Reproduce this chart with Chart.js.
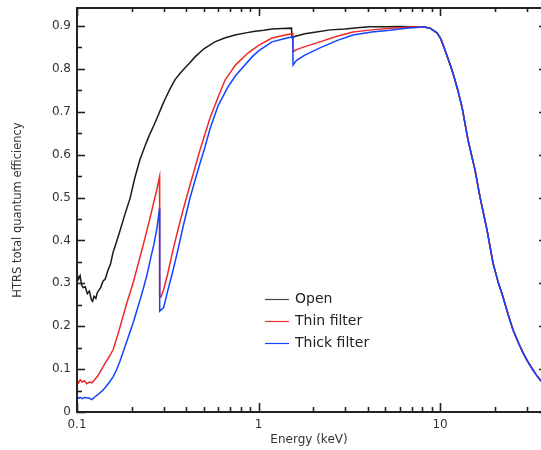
<!DOCTYPE html>
<html>
<head>
<meta charset="utf-8">
<script src="https://cdn.jsdelivr.net/npm/chart.js@4"></script>
<style>
  html, body { margin: 0; padding: 0; background: #fff; }
  #wrap { width: 541px; height: 450px; }
</style>
</head>
<body>
<div id="wrap"><canvas id="qeChart" width="541" height="450"></canvas></div>
<script>
// energies in keV, efficiencies
const openE = [0.100, 0.102, 0.104, 0.106, 0.108, 0.111, 0.114, 0.117, 0.120, 0.122, 0.124, 0.127, 0.129, 0.132,
  0.135, 0.139, 0.143, 0.148, 0.153, 0.158, 0.166, 0.174, 0.184, 0.196, 0.208, 0.222, 0.237, 0.250, 0.265,
  0.279, 0.295, 0.31, 0.33, 0.347, 0.37, 0.393, 0.42, 0.447, 0.50, 0.575, 0.65, 0.742, 0.85, 0.957, 1.07,
  1.187, 1.35, 1.52];
const openQE = [0.322, 0.31, 0.318, 0.296, 0.29, 0.292, 0.276, 0.282, 0.262, 0.258, 0.27, 0.265, 0.277, 0.284,
  0.29, 0.305, 0.31, 0.33, 0.345, 0.372, 0.40, 0.428, 0.462, 0.498, 0.545, 0.588, 0.62, 0.645, 0.668,
  0.69, 0.715, 0.735, 0.758, 0.775, 0.79, 0.802, 0.815, 0.828, 0.847, 0.863, 0.872, 0.879, 0.884, 0.888, 0.89,
  0.893, 0.894, 0.895];
const openEdgeE = [1.53, 1.6, 1.8, 2.0, 2.48, 3.0, 3.5, 4.11, 5.0, 6.0, 7.0, 7.76];
const openEdgeQE = [0.873, 0.876, 0.882, 0.885, 0.891, 0.893, 0.896, 0.898, 0.898, 0.899, 0.898, 0.898];

const thinE = [0.100, 0.102, 0.104, 0.107, 0.110, 0.113, 0.117, 0.121, 0.125, 0.130, 0.134, 0.139, 0.145, 0.151,
  0.158, 0.165, 0.172, 0.179, 0.19, 0.2035, 0.215, 0.228, 0.243, 0.255, 0.265, 0.276, 0.285, 0.2855, 0.29,
  0.30, 0.315, 0.338, 0.36, 0.384, 0.42, 0.476, 0.54, 0.60, 0.654, 0.75, 0.875, 1.0, 1.187, 1.4, 1.545, 1.55,
  1.62, 1.8, 2.18, 2.7, 3.32, 4.2, 5.3, 6.5, 7.76];
const thinQE = [0.072, 0.068, 0.075, 0.07, 0.073, 0.066, 0.07, 0.068, 0.075, 0.084, 0.093, 0.105, 0.118, 0.13,
  0.145, 0.17, 0.196, 0.222, 0.26, 0.30, 0.338, 0.378, 0.424, 0.46, 0.49, 0.52, 0.548, 0.27, 0.268,
  0.285, 0.32, 0.378, 0.425, 0.471, 0.53, 0.611, 0.685, 0.735, 0.774, 0.81, 0.837, 0.855, 0.872, 0.879, 0.882, 0.84,
  0.845, 0.852, 0.863, 0.876, 0.886, 0.891, 0.895, 0.897, 0.898];

const thickE = [0.100, 0.102, 0.104, 0.107, 0.110, 0.113, 0.117, 0.121, 0.125, 0.130, 0.134, 0.139, 0.145, 0.151,
  0.158, 0.165, 0.172, 0.179, 0.19, 0.2035, 0.215, 0.231, 0.243, 0.255, 0.265, 0.276, 0.285, 0.2855, 0.29,
  0.30, 0.315, 0.338, 0.356, 0.384, 0.42, 0.476, 0.507, 0.54, 0.60, 0.679, 0.75, 0.922, 1.0, 1.187, 1.4, 1.545,
  1.55, 1.62, 1.8, 2.18, 2.7, 3.32, 4.2, 5.3, 6.5, 7.76];
const thickQE = [0.035, 0.032, 0.034, 0.031, 0.034, 0.033, 0.032, 0.029, 0.035, 0.04, 0.045, 0.051, 0.06, 0.07,
  0.082, 0.098, 0.117, 0.138, 0.17, 0.207, 0.24, 0.285, 0.32, 0.36, 0.39, 0.43, 0.475, 0.235, 0.238,
  0.243, 0.28, 0.33, 0.37, 0.432, 0.50, 0.58, 0.618, 0.66, 0.715, 0.758, 0.785, 0.828, 0.842, 0.863, 0.871, 0.875,
  0.809, 0.82, 0.832, 0.849, 0.866, 0.879, 0.886, 0.89, 0.895, 0.897];

// high-energy roll-off, the same for all three
const tailE = [8.06, 8.8, 9.62, 10.1, 10.65, 11.2, 11.79, 12.5, 13.22, 14.27, 15.59, 16.61, 18.16, 19.59, 21,
  22.24, 23.7, 25.26, 27, 28.67, 30.5, 32.53, 34, 36];
const tailQE = [0.898, 0.895, 0.884, 0.87, 0.844, 0.818, 0.79, 0.752, 0.711, 0.634, 0.564, 0.501, 0.424, 0.347, 0.30,
  0.268, 0.228, 0.191, 0.162, 0.138, 0.117, 0.098, 0.086, 0.072];

const seriesNames = ['Open', 'Thin filter', 'Thick filter'];
const seriesColors = ['#1a1a1a', '#ee2a2a', '#1444ff'];
const legendColors = ['#444444', '#ee3333', '#1144ff'];

const xTickValues = [0.1, 1, 10];
const xMinorValues = [0.2, 0.3, 0.4, 0.5, 0.6, 0.7, 0.8, 0.9, 2, 3, 4, 5, 6, 7, 8, 9, 20, 30];
const yTickValues = [0, 0.1, 0.2, 0.3, 0.4, 0.5, 0.6, 0.7, 0.8, 0.9];
const yMinorValues = [0.05, 0.15, 0.25, 0.35, 0.45, 0.55, 0.65, 0.75, 0.85];

function toPoints(eList, qList) {
  return eList.map((e, i) => ({ x: e, y: qList[i] }));
}

const openPts = toPoints(openE, openQE).concat(toPoints(openEdgeE, openEdgeQE), toPoints(tailE, tailQE));
const thinPts = toPoints(thinE, thinQE).concat(toPoints(tailE, tailQE));
const thickPts = toPoints(thickE, thickQE).concat(toPoints(tailE, tailQE));

const FONT = 'DejaVu Sans';

// box + inward ticks on all four sides
const framePlugin = {
  id: 'frame',
  afterDraw(chart) {
    const { ctx, chartArea: a, scales } = chart;
    const xs = scales.x;
    const ys = scales.y;
    ctx.save();
    ctx.strokeStyle = '#222';
    ctx.lineWidth = 2;
    ctx.beginPath();
    ctx.moveTo(a.right + 5, a.top);
    ctx.lineTo(a.left, a.top);
    ctx.lineTo(a.left, a.bottom);
    ctx.lineTo(a.right + 5, a.bottom);
    ctx.stroke();

    const tick = (x1, y1, x2, y2) => {
      ctx.beginPath();
      ctx.moveTo(x1, y1);
      ctx.lineTo(x2, y2);
      ctx.stroke();
    };
    ctx.lineWidth = 1.6;
    xTickValues.forEach((v) => {
      const px = Math.round(xs.getPixelForValue(v)) + 0.5;
      tick(px, a.bottom, px, a.bottom - 9);
      tick(px, a.top, px, a.top + 8);
    });
    xMinorValues.forEach((v) => {
      const px = Math.round(xs.getPixelForValue(v)) + 0.5;
      tick(px, a.bottom, px, a.bottom - 5);
      tick(px, a.top, px, a.top + 4);
    });
    yTickValues.forEach((v) => {
      const py = Math.round(ys.getPixelForValue(v)) + 0.5;
      tick(a.left, py, a.left + 8, py);
      tick(a.right, py, a.right - 2, py);
    });
    yMinorValues.forEach((v) => {
      const py = Math.round(ys.getPixelForValue(v)) + 0.5;
      tick(a.left, py, a.left + 5, py);
    });
    ctx.restore();
  },
};

const legendPlugin = {
  id: 'innerLegend',
  afterDraw(chart) {
    const { ctx } = chart;
    ctx.save();
    ctx.font = '14px "' + FONT + '"';
    ctx.textBaseline = 'middle';
    chart.data.datasets.forEach((ds, i) => {
      const y = 299.5 + 22 * i;
      ctx.strokeStyle = legendColors[i];
      ctx.lineWidth = 1.2;
      ctx.beginPath();
      ctx.moveTo(265, y);
      ctx.lineTo(289, y);
      ctx.stroke();
      ctx.fillStyle = '#222';
      ctx.fillText(ds.label, 295, y);
    });
    ctx.restore();
  },
};

const qeCtx = document.getElementById('qeChart').getContext('2d');
const qeChart = new Chart(qeCtx, {
  type: 'scatter',
  data: {
    datasets: [
      { label: seriesNames[0], data: openPts, borderColor: seriesColors[0], order: 3 },
      { label: seriesNames[1], data: thinPts, borderColor: seriesColors[1], order: 2 },
      { label: seriesNames[2], data: thickPts, borderColor: seriesColors[2], order: 1 },
    ],
  },
  options: {
    responsive: false,
    animation: false,
    showLine: true,
    layout: { padding: { top: 8, right: 0, left: 0, bottom: 0 } },
    elements: {
      point: { radius: 0 },
      line: { borderWidth: 1.5, tension: 0 },
    },
    plugins: {
      legend: { display: false },
      tooltip: { enabled: false },
    },
    scales: {
      x: {
        type: 'logarithmic',
        min: 0.1,
        max: 36,
        grid: { display: false, drawTicks: false },
        border: { display: false },
        afterFit(scale) {
          scale.height = 38;
          scale.paddingLeft = 0;
          scale.paddingRight = 0;
        },
        afterBuildTicks(scale) { scale.ticks = xTickValues.map((v) => ({ value: v })); },
        ticks: {
          autoSkip: false,
          maxRotation: 0,
          padding: 6,
          color: '#333',
          font: { family: FONT, size: 12 },
          callback: (v) => String(v),
        },
        title: {
          display: true,
          text: 'Energy (keV)',
          color: '#333',
          font: { family: FONT, size: 12 },
          padding: { top: 0, bottom: 3 },
        },
      },
      y: {
        min: 0,
        max: 0.942,
        grid: { display: false, drawTicks: false },
        border: { display: false },
        afterFit(scale) {
          scale.width = 77;
          scale.paddingTop = 0;
          scale.paddingBottom = 0;
        },
        afterBuildTicks(scale) { scale.ticks = yTickValues.map((v) => ({ value: v })); },
        ticks: {
          padding: 6,
          color: '#333',
          font: { family: FONT, size: 12 },
          callback: (v) => String(Math.round(v * 10) / 10),
        },
        title: {
          display: true,
          text: 'HTRS total quantum efficiency',
          color: '#333',
          font: { family: FONT, size: 11.5 },
          padding: { top: 11, bottom: 0 },
        },
      },
    },
  },
  plugins: [framePlugin, legendPlugin],
});
</script>
</body>
</html>
